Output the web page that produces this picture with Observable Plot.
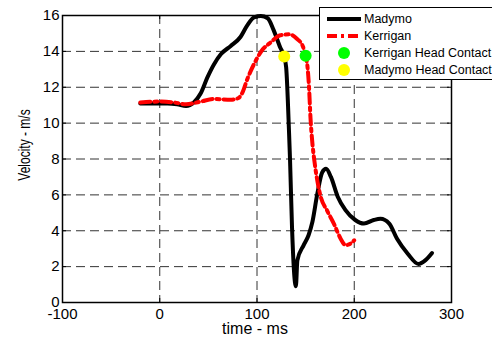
<!DOCTYPE html>
<html><head><meta charset="utf-8">
<script src="https://cdn.jsdelivr.net/npm/d3@7"></script>
<script src="https://cdn.jsdelivr.net/npm/@observablehq/plot@0.6"></script>
<style>
html,body{margin:0;padding:0;background:#fff;overflow:hidden;}
#wrap{position:relative;width:492px;height:342px;overflow:hidden;font-family:"Liberation Sans",Arial,Helvetica,sans-serif;color:#000;}
#ylabel{position:absolute;left:25px;top:145px;transform:translate(-50%,-50%) rotate(-90deg) scaleX(0.75);font-size:16px;white-space:nowrap;line-height:1;}
#legend{position:absolute;left:319px;top:7px;width:190px;height:73px;border:1px solid #000;background:#fff;box-sizing:border-box;}
.lrow{position:absolute;left:0;height:0;}
.lrow svg{position:absolute;left:6px;top:-6px;}
.lrow span{position:absolute;left:44px;top:-8px;font-size:12.5px;line-height:16px;white-space:nowrap;}
</style>
</head><body>
<div id="wrap"></div>
<script>
// ---- data ----
const madymoTime = [-20, 0, 8, 18, 27, 35, 42, 49, 56, 63, 73, 83, 90, 97, 104, 111, 117, 124, 128, 130, 133, 134, 136, 140, 141.5, 148, 153, 157, 162, 167, 171, 176, 183, 191, 201, 210, 220, 227, 236, 244, 255, 266, 273, 280];
const madymoVel  = [11.1, 11.1, 11.1, 11.05, 10.95, 11.15, 11.65, 12.55, 13.3, 13.85, 14.3, 14.8, 15.45, 15.9, 15.97, 15.85, 15.2, 14.2, 13.7, 13.1, 9.4, 7.9, 4.2, 0.9, 2.35, 3.2, 3.75, 4.5, 6.05, 7.25, 7.45, 7.0, 5.9, 5.15, 4.6, 4.4, 4.6, 4.67, 4.4, 3.55, 2.72, 2.15, 2.35, 2.76];
const kerriganTime = [-20, 0, 15, 27, 42, 56, 73, 81, 85, 90, 97, 105, 114, 124, 133, 141, 147, 150, 152, 153.5, 155, 157, 159, 162, 165.5, 172, 179, 186, 191, 196, 200];
const kerriganVel  = [11.15, 11.2, 11.15, 11.05, 11.2, 11.35, 11.3, 11.4, 11.7, 12.45, 13.3, 14.05, 14.5, 14.9, 14.95, 14.7, 14.3, 13.76, 13.1, 12.0, 10.3, 8.85, 7.9, 6.8, 5.9, 5.13, 4.4, 3.56, 3.2, 3.28, 3.47];
const contactNames = ["Kerrigan Head Contact", "Madymo Head Contact"];
const contactTime  = [150, 128];
const contactVel   = [13.76, 13.72];
const contactColor = ["#00ff00", "#ffff00"];
const seriesNames  = ["Madymo", "Kerrigan"];
const xTicks = [-100, 0, 100, 200, 300];
const yTicks = [0, 2, 4, 6, 8, 10, 12, 14, 16];
const xLabel = "time - ms";
const yLabel = "Velocity - m/s";

// ---- build ----
const madymo = madymoTime.map((t, i) => ({t, v: madymoVel[i]}));
const kerrigan = kerriganTime.map((t, i) => ({t, v: kerriganVel[i]}));
const contacts = contactTime.map((t, i) => ({t, v: contactVel[i], c: contactColor[i], name: contactNames[i]}));

const W = 492, H = 342, mL = 62, mR = 41, mT = 15, mB = 40;
const innerW = W - mL - mR, innerH = H - mT - mB, tk = 4;
const redDash = "10,4,3,4";
const gridDash = "9,5";

const chart = Plot.plot({
  width: W, height: H,
  marginLeft: mL, marginRight: mR, marginTop: mT, marginBottom: mB,
  style: {fontFamily: "'Liberation Sans', Arial, Helvetica, sans-serif", fontSize: "15px", color: "#000", background: "#fff"},
  x: {domain: [-100, 300], ticks: xTicks, tickSize: 0, tickPadding: 6, label: null, tickFormat: d => String(d)},
  y: {domain: [0, 16], ticks: yTicks, tickSize: 0, tickPadding: 3, label: null, tickFormat: d => String(d)},
  color: {type: "identity"},
  marks: [
    Plot.ruleX(xTicks, {stroke: "#333", strokeWidth: 1, strokeDasharray: gridDash}),
    Plot.ruleY(yTicks, {stroke: "#333", strokeWidth: 1, strokeDasharray: gridDash}),
    Plot.line(madymo, {x: "t", y: "v", stroke: "#000", strokeWidth: 4, curve: "monotone-x", strokeLinejoin: "round"}),
    Plot.line(kerrigan, {x: "t", y: "v", stroke: "#ff0000", strokeWidth: 4, curve: "monotone-x", strokeDasharray: redDash}),
    Plot.dot(contacts, {x: "t", y: "v", r: 6, fill: "c", stroke: null}),
    Plot.frame({stroke: "#000", strokeWidth: 1.5}),
    Plot.ruleX(xTicks, {stroke: "#000", insetTop: innerH - tk}),
    Plot.ruleX(xTicks, {stroke: "#000", insetBottom: innerH - tk}),
    Plot.ruleY(yTicks, {stroke: "#000", insetRight: innerW - tk}),
    Plot.ruleY(yTicks, {stroke: "#000", insetLeft: innerW - tk}),
    Plot.text([xLabel], {text: d => d, frameAnchor: "bottom", dy: 31, dx: -2, fontSize: 16, fill: "#000"})
  ]
});

const wrap = document.getElementById("wrap");
wrap.appendChild(chart);

const yl = document.createElement("div");
yl.id = "ylabel";
yl.textContent = yLabel;
wrap.appendChild(yl);

// legend
const legend = document.createElement("div");
legend.id = "legend";
wrap.appendChild(legend);
const entries = [
  {name: seriesNames[0], type: "line", color: "#000", dash: null},
  {name: seriesNames[1], type: "line", color: "#ff0000", dash: redDash},
  {name: contactNames[0], type: "dot", color: contactColor[0]},
  {name: contactNames[1], type: "dot", color: contactColor[1]}
];
entries.forEach((e, i) => {
  const row = document.createElement("div");
  row.className = "lrow";
  row.style.top = (10.5 + 17.3 * i) + "px";
  const svg = d3.create("svg").attr("width", 36).attr("height", 12);
  if (e.type === "line") {
    svg.append("line").attr("x1", 1).attr("x2", 35).attr("y1", 6).attr("y2", 6)
      .attr("stroke", e.color).attr("stroke-width", 4)
      .attr("stroke-dasharray", e.dash);
  } else {
    svg.append("circle").attr("cx", 18).attr("cy", 6).attr("r", 6).attr("fill", e.color);
  }
  row.appendChild(svg.node());
  const sp = document.createElement("span");
  sp.textContent = e.name;
  row.appendChild(sp);
  legend.appendChild(row);
});
</script>
</body></html>
